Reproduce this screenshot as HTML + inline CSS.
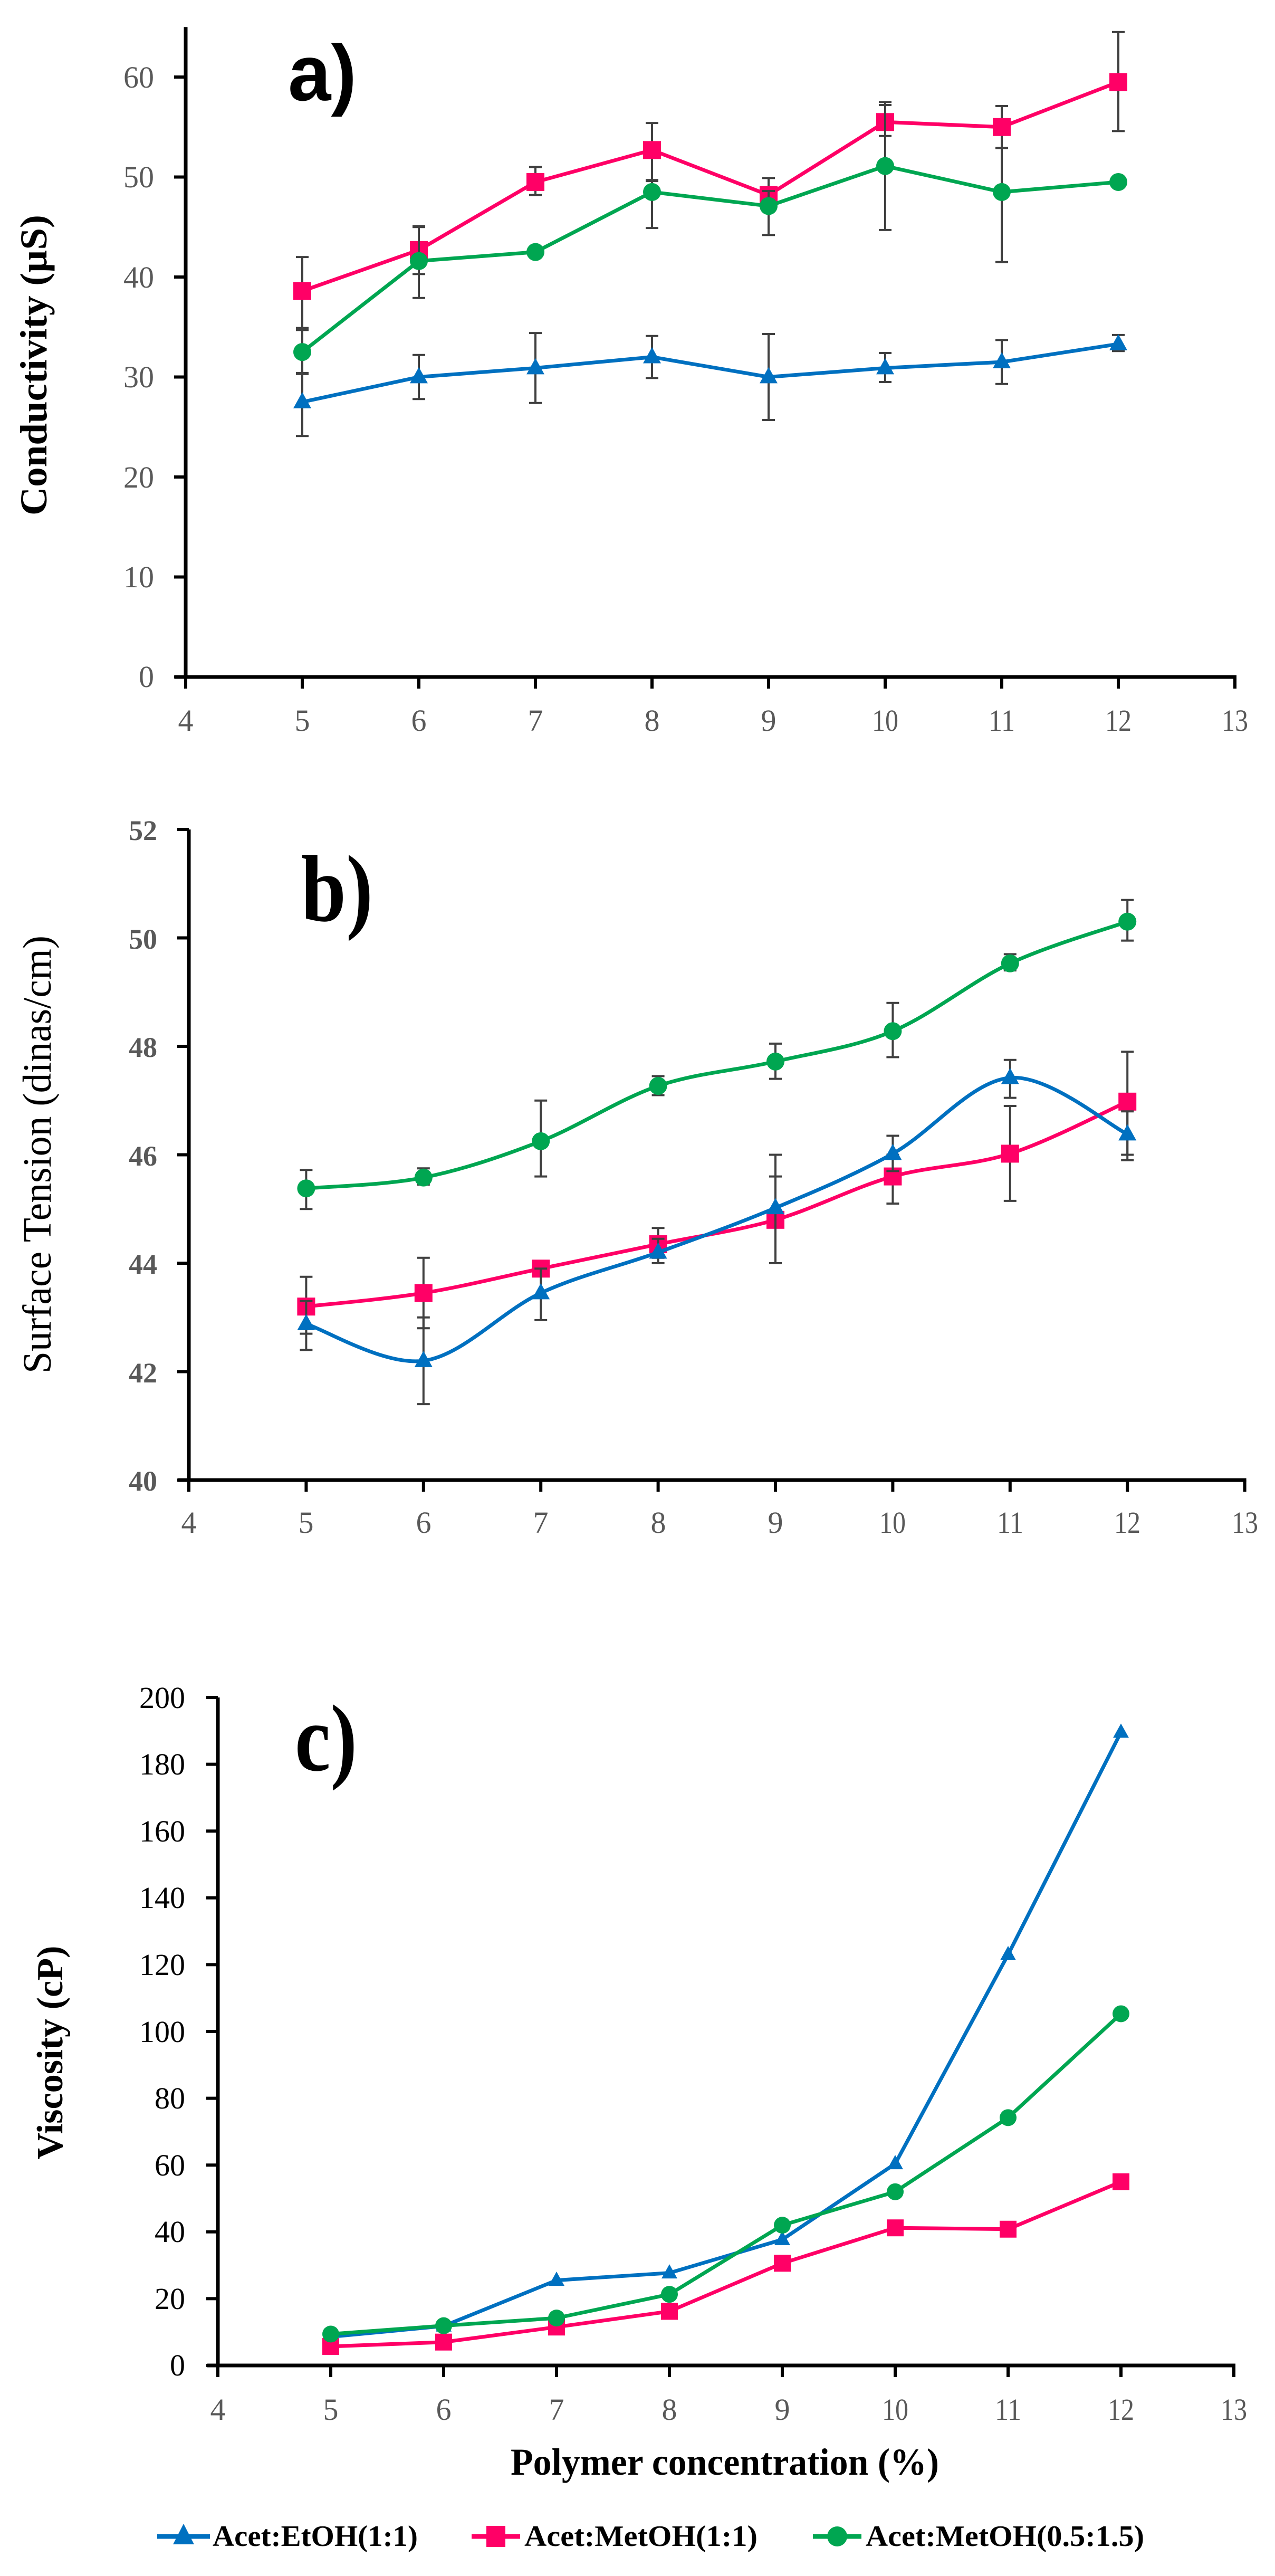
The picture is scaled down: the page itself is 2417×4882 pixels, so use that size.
<!DOCTYPE html>
<html><head><meta charset="utf-8"><style>
html,body{margin:0;padding:0;background:#fff;}
svg{display:block;}
.tg{font-family:"Liberation Serif",serif;fill:#595959;font-size:58px;}
.tw{font-family:"Liberation Serif",serif;fill:#595959;font-size:54px;font-weight:bold;}
.tc{font-family:"Liberation Serif",serif;fill:#000;font-size:58px;}
</style></head><body>
<svg id="s" width="2417" height="4882" viewBox="0 0 2417 4882" xmlns="http://www.w3.org/2000/svg">
<rect width="2417" height="4882" fill="#fff"/>
<g id="plot"></g>
<!-- Panel a text -->
<text x="546" y="190" font-family="Liberation Sans, sans-serif" font-weight="bold" font-size="150" textLength="130" lengthAdjust="spacingAndGlyphs">a)</text>
<g class="tg" text-anchor="end">
<text x="292" y="1302">0</text><text x="292" y="1113">10</text><text x="292" y="924">20</text><text x="292" y="734">30</text><text x="292" y="545">40</text><text x="292" y="355">50</text><text x="292" y="166">60</text>
</g>
<g class="tg" text-anchor="middle">
<text x="352" y="1385">4</text><text x="573" y="1385">5</text><text x="794" y="1385">6</text><text x="1015" y="1385">7</text><text x="1236" y="1385">8</text><text x="1457" y="1385">9</text><text x="1678" y="1385" textLength="50" lengthAdjust="spacingAndGlyphs">10</text><text x="1899" y="1385" textLength="50" lengthAdjust="spacingAndGlyphs">11</text><text x="2120" y="1385" textLength="50" lengthAdjust="spacingAndGlyphs">12</text><text x="2341" y="1385" textLength="50" lengthAdjust="spacingAndGlyphs">13</text>
</g>
<text transform="translate(88,692) rotate(-90)" text-anchor="middle" font-family="Liberation Serif, serif" font-weight="bold" font-size="72" textLength="570" lengthAdjust="spacingAndGlyphs">Conductivity (µS)</text>

<!-- Panel b text -->
<text x="571" y="1745" font-family="Liberation Serif, serif" font-weight="bold" font-size="180" textLength="136" lengthAdjust="spacingAndGlyphs">b)</text>
<g class="tw" text-anchor="end">
<text x="298" y="2825">40</text><text x="298" y="2620">42</text><text x="298" y="2414">44</text><text x="298" y="2209">46</text><text x="298" y="2003">48</text><text x="298" y="1798">50</text><text x="298" y="1592">52</text>
</g>
<g class="tg" text-anchor="middle">
<text x="358" y="2905">4</text><text x="580" y="2905">5</text><text x="803" y="2905">6</text><text x="1025" y="2905">7</text><text x="1248" y="2905">8</text><text x="1470" y="2905">9</text><text x="1692" y="2905" textLength="50" lengthAdjust="spacingAndGlyphs">10</text><text x="1915" y="2905" textLength="50" lengthAdjust="spacingAndGlyphs">11</text><text x="2137" y="2905" textLength="50" lengthAdjust="spacingAndGlyphs">12</text><text x="2360" y="2905" textLength="50" lengthAdjust="spacingAndGlyphs">13</text>
</g>
<text transform="translate(96,2188) rotate(-90)" text-anchor="middle" font-family="Liberation Serif, serif" font-size="76" textLength="830" lengthAdjust="spacingAndGlyphs">Surface Tension (dinas/cm)</text>

<!-- Panel c text -->
<text x="559" y="3355" font-family="Liberation Serif, serif" font-weight="bold" font-size="180" textLength="118" lengthAdjust="spacingAndGlyphs">c)</text>
<g class="tc" text-anchor="end">
<text x="351" y="4502">0</text><text x="351" y="4376">20</text><text x="351" y="4249">40</text><text x="351" y="4123">60</text><text x="351" y="3996">80</text><text x="351" y="3870">100</text><text x="351" y="3743">120</text><text x="351" y="3616">140</text><text x="351" y="3490">160</text><text x="351" y="3363">180</text><text x="351" y="3237">200</text>
</g>
<g class="tg" text-anchor="middle">
<text x="413" y="4586">4</text><text x="627" y="4586">5</text><text x="841" y="4586">6</text><text x="1055" y="4586">7</text><text x="1269" y="4586">8</text><text x="1483" y="4586">9</text><text x="1697" y="4586" textLength="50" lengthAdjust="spacingAndGlyphs">10</text><text x="1911" y="4586" textLength="50" lengthAdjust="spacingAndGlyphs">11</text><text x="2125" y="4586" textLength="50" lengthAdjust="spacingAndGlyphs">12</text><text x="2339" y="4586" textLength="50" lengthAdjust="spacingAndGlyphs">13</text>
</g>
<text transform="translate(118,3890) rotate(-90)" text-anchor="middle" font-family="Liberation Serif, serif" font-weight="bold" font-size="70" textLength="405" lengthAdjust="spacingAndGlyphs">Viscosity (cP)</text>
<text x="1374" y="4690" text-anchor="middle" font-family="Liberation Serif, serif" font-weight="bold" font-size="72" textLength="812" lengthAdjust="spacingAndGlyphs">Polymer concentration (%)</text>

<!-- Legend -->
<line x1="298" y1="4807" x2="398" y2="4807" stroke="#0070C0" stroke-width="9"/>
<polygon points="348,4783 368,4822 328,4822" fill="#0070C0"/>
<text x="403" y="4825" font-family="Liberation Serif, serif" font-weight="bold" font-size="56" textLength="389" lengthAdjust="spacingAndGlyphs">Acet:EtOH(1:1)</text>
<line x1="894" y1="4807" x2="986" y2="4807" stroke="#FF0066" stroke-width="9"/>
<rect x="922" y="4787" width="36" height="40" fill="#FF0066"/>
<text x="994" y="4825" font-family="Liberation Serif, serif" font-weight="bold" font-size="56" textLength="442" lengthAdjust="spacingAndGlyphs">Acet:MetOH(1:1)</text>
<line x1="1541" y1="4807" x2="1633" y2="4807" stroke="#00A651" stroke-width="9"/>
<circle cx="1587" cy="4807" r="19" fill="#00A651"/>
<text x="1641" y="4825" font-family="Liberation Serif, serif" font-weight="bold" font-size="56" textLength="528" lengthAdjust="spacingAndGlyphs">Acet:MetOH(0.5:1.5)</text>
</svg>
<script>
(function(){
var NS="http://www.w3.org/2000/svg",g=document.getElementById("plot");
function el(n,a){var e=document.createElementNS(NS,n);for(var k in a)e.setAttribute(k,a[k]);g.appendChild(e);return e;}
var B="#0070C0",P="#FF0066",G="#00A651";
var xs=[5,6,7,8,9,10,11,12];
function axes(X,Y,x0,y0,xTop,yTicks){
  el("line",{x1:x0,y1:Y(xTop),x2:x0,y2:y0+3,stroke:"#000","stroke-width":7});
  el("line",{x1:x0-20,y1:y0,x2:X(13)+3,y2:y0,stroke:"#000","stroke-width":7});
  for(var i=4;i<=13;i++)el("line",{x1:X(i),y1:y0,x2:X(i),y2:y0+22,stroke:"#000","stroke-width":6});
  yTicks.forEach(function(v){el("line",{x1:x0-22,y1:Y(v),x2:x0,y2:Y(v),stroke:"#000","stroke-width":6});});
}
function marker(t,x,y,c,s){
  if(t=="t")el("polygon",{points:x+","+(y-s*1.1)+" "+(x+s)+","+(y+s*0.7)+" "+(x-s)+","+(y+s*0.7),fill:c});
  else if(t=="s")el("rect",{x:x-s,y:y-s,width:2*s,height:2*s,fill:c});
  else el("circle",{cx:x,cy:y,r:s,fill:c});
}
function series(X,Y,vals,c,t,s,smooth,err){
  var p=vals.map(function(v,i){return [X(xs[i]),Y(v)];});
  var d="M"+p[0][0]+","+p[0][1];
  if(smooth){for(var i=0;i<p.length-1;i++){var a=p[i-1]||p[i],b=p[i],cc=p[i+1],e=p[i+2]||cc;
    d+=" C"+(b[0]+(cc[0]-a[0])/6)+","+(b[1]+(cc[1]-a[1])/6)+" "+(cc[0]-(e[0]-b[0])/6)+","+(cc[1]-(e[1]-b[1])/6)+" "+cc[0]+","+cc[1];}}
  else for(var i=1;i<p.length;i++)d+=" L"+p[i][0]+","+p[i][1];
  if(err)err.forEach(function(r,i){if(!r)return;var x=p[i][0];
    el("line",{x1:x,y1:Y(r[0]),x2:x,y2:Y(r[1]),stroke:"#404040","stroke-width":4});
    el("line",{x1:x-12,y1:Y(r[0]),x2:x+12,y2:Y(r[0]),stroke:"#404040","stroke-width":4});
    el("line",{x1:x-12,y1:Y(r[1]),x2:x+12,y2:Y(r[1]),stroke:"#404040","stroke-width":4});});
  el("path",{d:d,fill:"none",stroke:c,"stroke-width":7,"stroke-linejoin":"round"});
  p.forEach(function(q){marker(t,q[0],q[1],c,s);});
}
var XA=function(v){return 352+(v-4)*221;},YA=function(v){return 1283-v*18.95;};
axes(XA,YA,352,1283,65,[0,10,20,30,40,50,60]);
series(XA,YA,[38.6,42.7,49.5,52.7,48.2,55.5,55,59.5],P,"s",17,false,
 [[42,34.9],[45.1,40.3],[51,48.2],[55.4,49.6],[49.9,46.6],[57.5,54.1],[57.1,52.9],[64.5,54.6]]);
series(XA,YA,[32.5,41.6,42.5,48.5,47.1,51.1,48.5,49.5],G,"c",17,false,
 [[34.7,30.3],[45,37.9],null,[49.7,44.9],[48.6,44.2],[57.2,44.7],[52.9,41.5],null]);
series(XA,YA,[27.5,30,30.9,32,30,30.9,31.5,33.3],B,"t",17,false,
 [[30.4,24.1],[32.2,27.8],[34.4,27.4],[34.1,29.9],[34.3,25.7],[32.4,29.5],[33.7,29.3],[34.2,32.6]]);
var XB=function(v){return 358+(v-4)*222.4;},YB=function(v){return 2805-(v-40)*102.75;};
axes(XB,YB,358,2805,52,[40,42,44,46,48,50,52]);
series(XB,YB,[45.38,45.58,46.25,47.27,47.72,48.28,49.53,50.3],G,"c",17,true,
 [[45,45.72],[45.45,45.75],[45.6,47],[47.1,47.45],[47.4,48.05],[47.8,48.8],[49.4,49.7],[49.95,50.7]]);
series(XB,YB,[43.2,43.45,43.9,44.35,44.8,45.6,46.02,46.98],P,"s",17,true,
 [[42.7,43.75],[42.8,44.1],[43.8,44],[44.1,44.65],[44,45.6],[45.1,46],[45.15,46.9],[45.9,47.9]]);
series(XB,YB,[42.88,42.2,43.45,44.2,45.02,46.02,47.42,46.38],B,"t",17,true,
 [[42.4,43.3],[41.4,43],[42.95,43.9],[44,44.45],[44,46],[45.7,46.35],[47.05,47.75],[46,46.8]]);
var XC=function(v){return 413+(v-4)*214;},YC=function(v){return 4483-v*6.33;};
axes(XC,YC,413,4483,200,[0,20,40,60,80,100,120,140,160,180,200]);
series(XC,YC,[8.6,11.8,25.5,27.7,37.7,60.4,123,189.6],B,"t",15,false,null);
series(XC,YC,[5.7,7,11.5,16.2,30.6,41.2,40.8,55],P,"s",16,false,null);
series(XC,YC,[9.4,11.9,14.2,21.3,42,52,74.2,105.3],G,"c",16,false,null);
})();
</script>
</body></html>
